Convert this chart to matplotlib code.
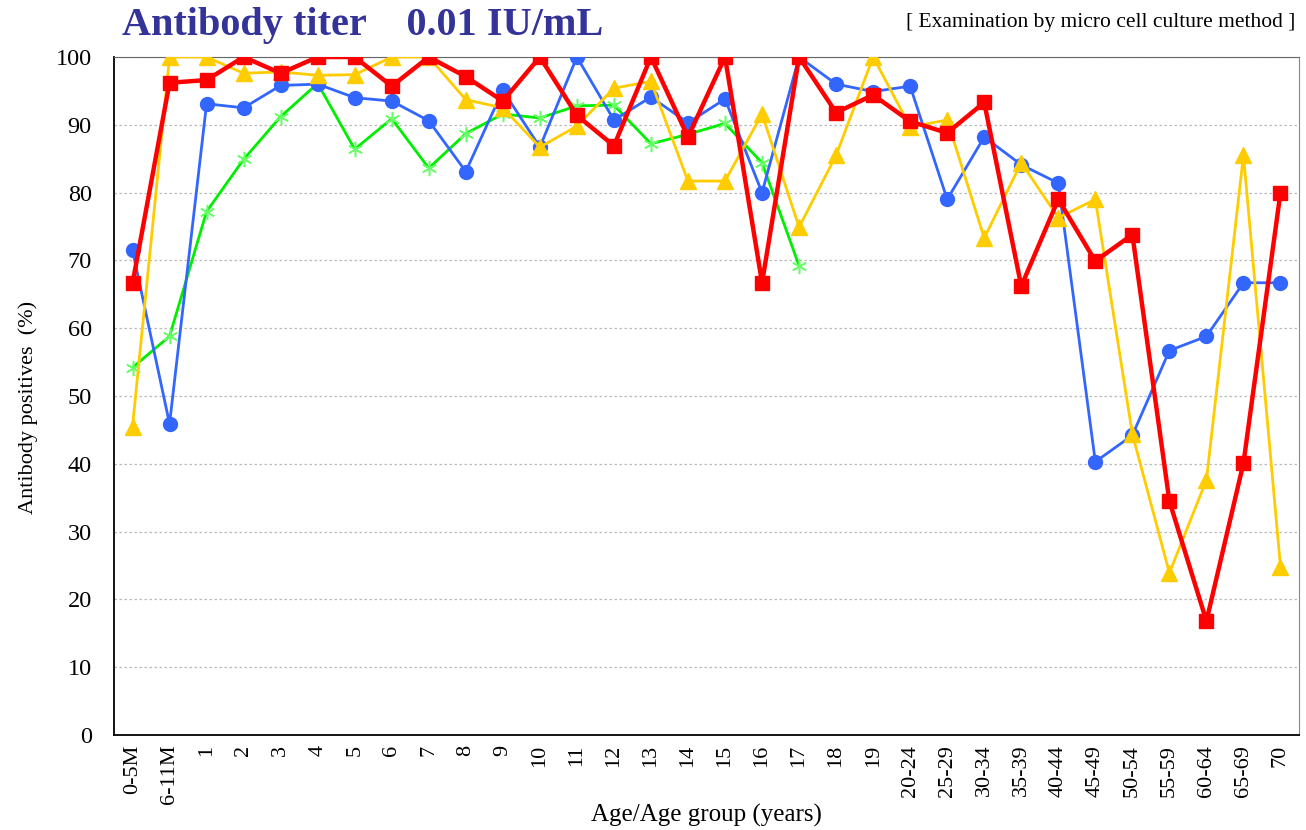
import matplotlib
matplotlib.use("Agg")
import matplotlib.pyplot as plt
import numpy as np

categories = ["0-5M", "6-11M", "1", "2", "3", "4", "5", "6", "7", "8", "9", "10",
              "11", "12", "13", "14", "15", "16", "17", "18", "19", "20-24", "25-29",
              "30-34", "35-39", "40-44", "45-49", "50-54", "55-59", "60-64", "65-69", "70"]

blue = [71.5, 45.9, 93.1, 92.5, 95.8, 96.0, 94.0, 93.5, 90.6, 83.1, 95.1, 86.7,
        100.0, 90.7, 94.1, 90.3, 93.8, 80.0, 100.0, 96.0, 94.9, 95.7, 79.0,
        88.2, 84.1, 81.4, 40.3, 44.2, 56.7, 58.8, 66.7, 66.7]

yellow = [45.5, 100.0, 100.0, 97.6, 97.8, 97.3, 97.4, 100.0, 100.0, 93.7, 92.5, 86.7,
          89.8, 95.4, 96.4, 81.7, 81.7, 91.6, 74.9, 85.5, 100.0, 89.7, 90.7,
          73.3, 84.4, 76.3, 79.0, 44.4, 23.9, 37.6, 85.5, 24.8]

green = [54.2, 58.8, 77.2, 84.9, 91.2, 96.1, 86.4, 90.9, 83.6, 88.7, 91.6, 91.0,
         92.8, 92.9, 87.2, 88.6, 90.2, 84.4, 69.2]

red = [66.6, 96.2, 96.6, 100.0, 97.6, 100.0, 100.0, 95.7, 100.0, 97.1, 93.5, 100.0,
       91.4, 86.9, 100.0, 88.2, 100.0, 66.7, 100.0, 91.8, 94.4, 90.5, 88.8,
       93.3, 66.2, 79.0, 69.9, 73.8, 34.5, 16.8, 40.1, 80.0]

yticks = list(range(0, 101, 10))

plt.rcParams['font.family'] = ['Liberation Serif', 'DejaVu Serif']

W, H = 1306, 830
fig = plt.figure(figsize=(W / 100, H / 100), dpi=100)
ax = fig.add_axes([114 / W, 1 - 735 / H, (1299 - 114) / W, (735 - 57) / H])

x = np.arange(len(categories))
ax.plot(x[:len(green)], green, color='#00EE00', lw=2.0, marker=(6, 2, 0), ms=11,
        mec='#66FF66', mew=1.1, zorder=3)
ax.plot(x, blue, color='#3366FF', lw=2.0, marker='o', ms=10, zorder=4)
ax.plot(x, yellow, color='#FFCC00', lw=2.0, marker='^', ms=11, zorder=5)
ax.plot(x, red, color='#FF0000', lw=3.2, marker='s', ms=10, zorder=6)

ax.set_xlim(-0.5, len(categories) - 0.5)
ax.set_ylim(0, 100)
ax.set_yticks(yticks)
ax.set_yticklabels([str(v) for v in yticks], fontsize=17.5)
ax.set_xticks(x)
ax.set_xticklabels(categories, rotation=90, fontsize=16)
ax.tick_params(axis='y', length=0, pad=16)
ax.tick_params(axis='x', length=0, pad=7)

ax.grid(axis='y', linestyle=(0, (2, 2)), color='#BBBBBB', lw=0.9)
ax.set_axisbelow(True)
ax.spines['left'].set_color('black')
ax.spines['bottom'].set_color('black')
ax.spines['left'].set_linewidth(1.3)
ax.spines['bottom'].set_linewidth(1.3)
ax.spines['top'].set_color('#666666')
ax.spines['right'].set_color('#888888')

ax.set_ylabel('Antibody positives  (%)', fontsize=16)
ax.yaxis.set_label_coords((38 - 114) / (1299 - 114), (735 - 407) / (735 - 57))
ax.set_xlabel('Age/Age group (years)', fontsize=18, va='center')
ax.xaxis.set_label_coords(0.5, (735 - 815) / (735 - 57))

fig.text(122 / W, 1 - 25 / H, 'Antibody titer    0.01 IU/mL', fontsize=29,
         fontweight='bold', color='#333399', va='center', ha='left')
fig.text(1295 / W, 1 - 22 / H, '[ Examination by micro cell culture method ]',
         fontsize=15.5, color='black', va='center', ha='right')

fig.savefig('out.png', dpi=100)
